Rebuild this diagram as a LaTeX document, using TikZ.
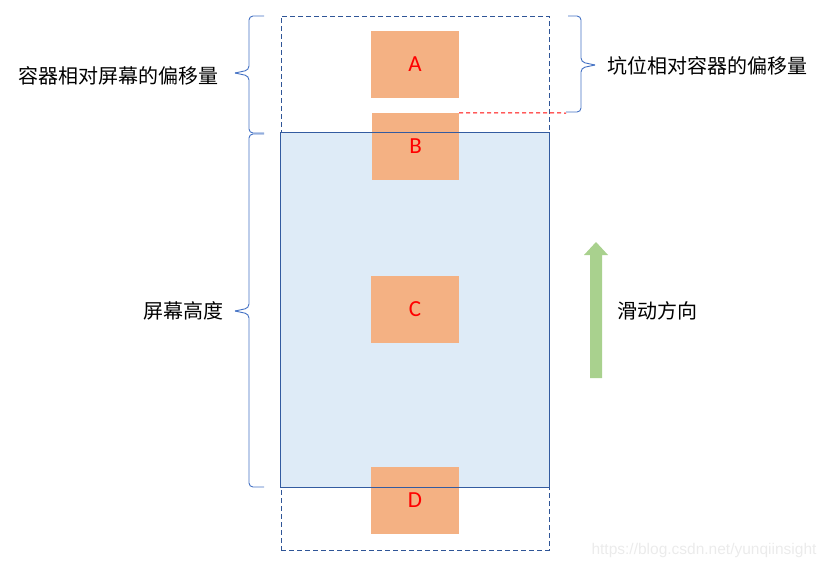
\documentclass[tikz,border=0pt]{standalone}
\usepackage{fontspec}
\usepackage{tikz}
\newfontfamily\cjk{Noto Sans CJK SC}
\newfontfamily\latf{Carlito}
\newfontfamily\wmf{Liberation Sans}
\definecolor{slot}{RGB}{244,177,131}
\definecolor{scr}{RGB}{222,235,247}
\definecolor{scrline}{RGB}{47,85,151}
\definecolor{brc}{RGB}{68,114,196}
\definecolor{mv}{RGB}{169,209,142}
\tikzset{
  slotbox/.style={fill=slot,minimum width=88pt,minimum height=67pt,inner sep=0pt,text=red,font=\latf\fontsize{23}{25}\selectfont},
  lbl/.style={font=\cjk\fontsize{20}{22}\selectfont,inner sep=0pt},
  bracebar/.style={brc,line width=0.9pt,rounded corners=4pt},
}
\begin{document}
\begin{tikzpicture}[x=1pt,y=-1pt]
  \useasboundingbox (0,0) rectangle (829,568);
  % container (dashed) and screen
  \node[draw=scrline,dashed,dash pattern=on 5pt off 3pt,line width=0.9pt,minimum width=268pt,minimum height=534pt,inner sep=0pt] (box) at (415,283) {};
  \node[fill=scr,minimum width=268pt,minimum height=354pt,inner sep=0pt] (screen) at (415,310) {};
  % slots
  \node[slotbox] (A) at (415,64) {A};
  \node[slotbox,minimum width=87pt] (B) at (415.5,146.5) {B};
  \node[slotbox] (C) at (415,309.5) {C};
  \node[slotbox] (D) at (415,500) {D};
  \draw[scrline!80!brc,line width=0.9pt] (screen.north west) rectangle (screen.south east);
  \draw[red,dashed,dash pattern=on 4pt off 3pt,line width=1pt] (B.north east) -- (566,113);
  % braces on the left
  \draw[bracebar] (264,16) -- (249,16) -- (249,70) -- (235,73);
  \draw[bracebar] (235,73) -- (249,76) -- (249,133) -- (264,133);
  \node[lbl] (offbox) at (118,76) {容器相对屏幕的偏移量};
  \draw[bracebar] (264,134) -- (249,134) -- (249,308) -- (235,311);
  \draw[bracebar] (235,311) -- (249,314) -- (249,487) -- (264,487);
  \node[lbl] (scrh) at (183,311) {屏幕高度};
  % brace on the right
  \draw[bracebar] (568,16) -- (581,16) -- (581,62) -- (595,65);
  \draw[bracebar] (595,65) -- (581,68) -- (581,112) -- (566,112);
  \node[lbl] (offslot) at (707,66) {坑位相对容器的偏移量};
  % scroll direction
  \fill[mv] (590,378) -- (590,255) -- (584,255) -- (596,242) -- (608,255) -- (602,255) -- (602,378) -- cycle;
  \node[lbl] (dir) at (657,311) {滑动方向};
  \node[text=black!8,font=\wmf\fontsize{15.5}{17}\selectfont,inner sep=0pt] (wm) at (704,550) {https://blog.csdn.net/yunqiinsight};
\end{tikzpicture}
\end{document}
